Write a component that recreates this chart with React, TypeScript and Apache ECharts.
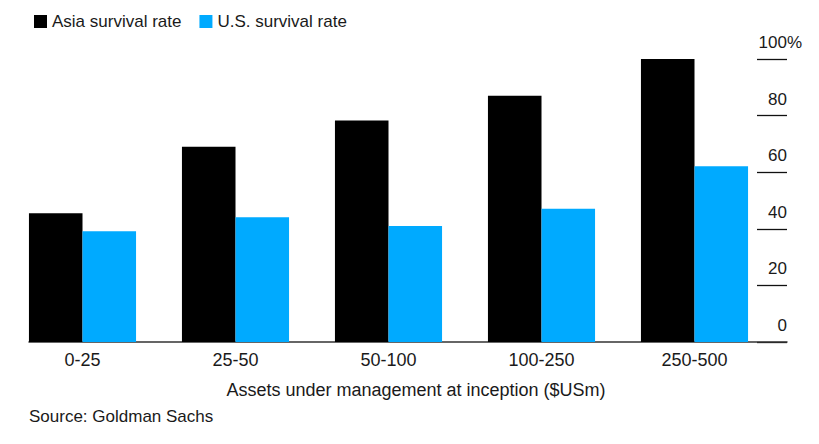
import React, { useEffect, useRef } from "react";
import * as echarts from "echarts";

const categories = ["0-25", "25-50", "50-100", "100-250", "250-500"];
const asiaSurvival = [45.5, 69, 78.3, 87, 100];
const usSurvival = [39.1, 44.1, 41, 47.1, 62.1];
const yTicks = [0, 20, 40, 60, 80, 100];
const seriesNames = ["Asia survival rate", "U.S. survival rate"];
const xAxisTitle = "Assets under management at inception ($USm)";
const sourceText = "Source: Goldman Sachs";

const FONT = "'Liberation Sans', Arial, Helvetica, sans-serif";
const TEXT = "#1a1a1a";

export default function App() {
  const ref = useRef<HTMLDivElement>(null);
  useEffect(() => {
    if (!ref.current) return;
    const chart = echarts.init(ref.current, undefined, { renderer: "svg" });
    const yMax = yTicks[yTicks.length - 1];
    chart.setOption({
      animation: false,
      backgroundColor: "#ffffff",
      textStyle: { fontFamily: FONT },
      legend: {
        left: 29,
        top: 8,
        icon: "rect",
        itemWidth: 13,
        itemHeight: 13,
        itemGap: 18,
        data: seriesNames,
        textStyle: { fontSize: 17, color: TEXT, fontFamily: FONT },
      },
      grid: [
        { left: 6, right: 48, top: 59, bottom: 102 },
        { left: 29, right: 32, top: 59, bottom: 102 },
        { left: 757, right: 32, top: 59, bottom: 102 },
      ],
      xAxis: [
        {
          type: "category",
          gridIndex: 0,
          data: categories,
          axisLine: { show: false },
          axisTick: { show: false },
          axisLabel: { fontSize: 18, color: TEXT, margin: 9, fontFamily: FONT },
        },
        {
          type: "value",
          gridIndex: 1,
          min: 0,
          max: 1,
          axisLine: { show: true, lineStyle: { color: "#333", width: 1.5 } },
          axisTick: { show: false },
          axisLabel: { show: false },
          splitLine: { show: false },
          name: xAxisTitle,
          nameLocation: "middle",
          nameGap: 39,
          nameTextStyle: { fontSize: 18, color: TEXT, fontFamily: FONT, padding: [0, 0, 0, 16] },
        },
        {
          type: "value",
          gridIndex: 2,
          min: 0,
          max: 1,
          show: false,
        },
      ],
      yAxis: [
        { type: "value", gridIndex: 0, min: 0, max: yMax, show: false },
        { type: "value", gridIndex: 1, min: 0, max: yMax, show: false },
        {
          type: "value",
          gridIndex: 2,
          position: "right",
          min: 0,
          max: yMax,
          interval: 20,
          axisLine: { show: false },
          axisTick: { show: false },
          splitLine: { show: true, lineStyle: { color: "#111", width: 1.3 } },
          axisLabel: {
            inside: true,
            margin: 0,
            align: "right",
            verticalAlign: "bottom",
            padding: [0, 0, 8, 0],
            fontSize: 17,
            color: TEXT,
            fontFamily: FONT,
            formatter: (v: number) => (v === yMax ? "{h|" + v + "%}" : String(v)),
            rich: {
              h: { fontSize: 17, color: TEXT, fontFamily: FONT, padding: [0, -15, 0, 0] },
            },
          },
        },
      ],
      series: [
        {
          name: seriesNames[0],
          type: "bar",
          xAxisIndex: 0,
          yAxisIndex: 0,
          data: asiaSurvival,
          itemStyle: { color: "#000000" },
          barGap: "0%",
          barCategoryGap: "30%",
        },
        {
          name: seriesNames[1],
          type: "bar",
          xAxisIndex: 0,
          yAxisIndex: 0,
          data: usSurvival,
          itemStyle: { color: "#00aaff" },
          barGap: "0%",
          barCategoryGap: "30%",
        },
      ],
      graphic: [
        {
          type: "text",
          left: 29,
          top: 408,
          style: { text: sourceText, fontSize: 17, fill: TEXT, fontFamily: FONT },
        },
      ],
    });
    return () => chart.dispose();
  }, []);
  return (
    <div
      ref={ref}
      style={{ position: "fixed", left: 0, top: 0, width: 819, height: 444 }}
    />
  );
}
